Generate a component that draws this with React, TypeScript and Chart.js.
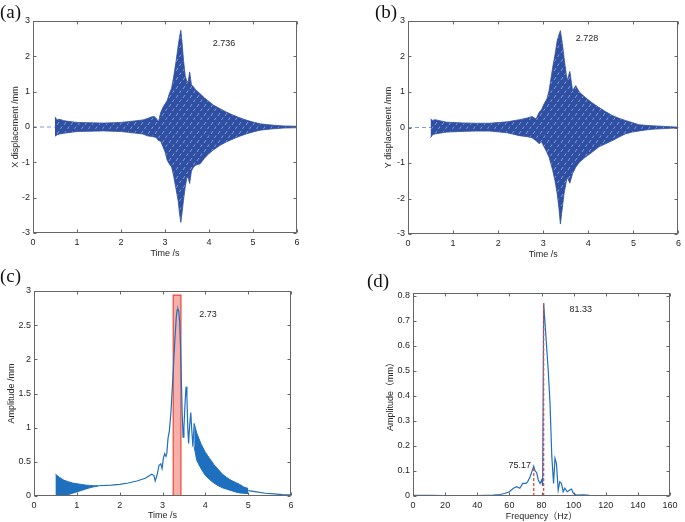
import React, { useEffect, useRef } from "react";
import { Chart, registerables } from "chart.js";

Chart.register(...registerables);

const W = 685;
const H = 522;
const FONT = "'Liberation Sans', Arial, 'Noto Sans CJK SC', sans-serif";
const BAND = "#2f4fa2";
const LINE = "#1f6fbf";
const RED = "#e8473a";

// ---------- Panel (a): X displacement envelope ----------
const timeA = [0.5, 0.55, 0.6, 0.7, 0.8, 1.0, 1.3, 1.6, 2.0, 2.3, 2.5, 2.6, 2.7, 2.75, 2.8, 2.85, 2.9, 2.95, 3.0, 3.05, 3.1, 3.15, 3.2, 3.25, 3.3, 3.33, 3.36, 3.39, 3.42, 3.46, 3.5, 3.53, 3.56, 3.6, 3.65, 3.7, 3.8, 3.9, 4.0, 4.1, 4.25, 4.4, 4.56, 4.7, 4.86, 5.0, 5.16, 5.3, 5.47, 5.7, 6.0];
const upperA = [0.28, 0.2, 0.22, 0.18, 0.16, 0.13, 0.12, 0.11, 0.13, 0.17, 0.2, 0.24, 0.29, 0.3, 0.25, 0.14, 0.4, 0.55, 0.65, 0.75, 0.95, 1.1, 1.45, 1.85, 2.3, 2.55, 2.736, 2.35, 1.9, 1.45, 1.27, 1.3, 1.56, 1.2, 1.13, 1.05, 0.94, 0.82, 0.72, 0.62, 0.52, 0.42, 0.33, 0.26, 0.19, 0.14, 0.09, 0.07, 0.05, 0.03, 0.02];
const lowerA = [-0.26, -0.22, -0.2, -0.18, -0.16, -0.13, -0.12, -0.11, -0.13, -0.17, -0.2, -0.25, -0.27, -0.28, -0.3, -0.38, -0.4, -0.55, -0.7, -0.94, -1.05, -1.13, -1.41, -1.75, -2.1, -2.45, -2.7, -2.4, -2.07, -1.7, -1.41, -1.45, -1.6, -1.25, -1.13, -1.08, -1.04, -0.88, -0.75, -0.65, -0.52, -0.42, -0.33, -0.26, -0.19, -0.14, -0.09, -0.07, -0.05, -0.03, -0.02];

// ---------- Panel (b): Y displacement envelope ----------
const timeB = [0.5, 0.55, 0.6, 0.86, 1.2, 1.5, 1.81, 2.2, 2.47, 2.65, 2.75, 2.84, 2.91, 2.96, 3.02, 3.08, 3.13, 3.21, 3.26, 3.31, 3.35, 3.38, 3.42, 3.46, 3.53, 3.59, 3.65, 3.72, 3.8, 3.93, 4.08, 4.23, 4.38, 4.53, 4.68, 4.82, 4.97, 5.12, 5.27, 5.41, 5.7, 6.0];
const upperB = [0.24, 0.2, 0.22, 0.15, 0.13, 0.12, 0.12, 0.16, 0.22, 0.27, 0.31, 0.24, 0.43, 0.5, 0.67, 0.8, 1.04, 1.7, 2.05, 2.45, 2.62, 2.728, 2.4, 1.98, 1.32, 1.58, 1.04, 1.18, 1.0, 0.85, 0.7, 0.57, 0.45, 0.34, 0.26, 0.2, 0.14, 0.08, 0.06, 0.05, 0.03, 0.01];
const lowerB = [-0.29, -0.2, -0.18, -0.13, -0.11, -0.1, -0.1, -0.15, -0.23, -0.26, -0.29, -0.37, -0.46, -0.4, -0.55, -0.7, -0.84, -1.21, -1.5, -1.87, -2.3, -2.72, -2.3, -1.87, -1.4, -1.57, -1.3, -1.12, -0.98, -0.84, -0.7, -0.55, -0.46, -0.37, -0.27, -0.18, -0.13, -0.1, -0.07, -0.05, -0.03, -0.01];

const zeroTime = [0, 6];
const zeroDisp = [0, 0];

// ---------- Panel (c): amplitude envelope ----------
const cLeadTime = [0, 0.5];
const cLeadAmp = [0, 0];
const cEarlyTime = [0.5, 0.6, 0.7, 0.8, 0.9, 1.0, 1.1, 1.2, 1.3, 1.4, 1.5];
const cEarlyUpper = [0.32, 0.27, 0.23, 0.21, 0.19, 0.18, 0.17, 0.16, 0.155, 0.15, 0.15];
const cEarlyLower = [0.0, 0.0, 0.01, 0.02, 0.04, 0.06, 0.08, 0.1, 0.12, 0.135, 0.145];
const cMainTime = [1.5, 1.8, 2.0, 2.2, 2.4, 2.6, 2.7, 2.75, 2.8, 2.83, 2.87, 2.92, 2.96, 2.99, 3.02, 3.05, 3.08, 3.1, 3.13, 3.16, 3.2, 3.23, 3.26, 3.29, 3.32, 3.34, 3.36, 3.38, 3.4, 3.42, 3.44, 3.46, 3.48, 3.5, 3.53, 3.55, 3.57, 3.59, 3.61, 3.63, 3.66, 3.68, 3.71, 3.74];
const cMainAmp = [0.15, 0.16, 0.17, 0.19, 0.22, 0.26, 0.3, 0.32, 0.3, 0.22, 0.3, 0.45, 0.47, 0.4, 0.55, 0.62, 0.58, 0.62, 0.85, 0.95, 1.25, 1.6, 1.94, 2.3, 2.6, 2.72, 2.74, 2.7, 2.55, 2.2, 1.7, 1.2, 0.86, 1.0, 1.4, 1.6, 1.45, 1.0, 0.77, 1.0, 1.22, 1.0, 0.72, 1.06];
const cLateTime = [3.74, 3.8, 3.9, 4.0, 4.1, 4.2, 4.3, 4.4, 4.5, 4.6, 4.7, 4.8, 4.9, 5.0];
const cLateUpper = [1.06, 0.92, 0.76, 0.64, 0.55, 0.46, 0.39, 0.32, 0.27, 0.23, 0.2, 0.17, 0.13, 0.11];
const cLateLower = [0.72, 0.52, 0.4, 0.3, 0.24, 0.19, 0.15, 0.12, 0.1, 0.08, 0.06, 0.045, 0.04, 0.035];
const cTailTime = [5.0, 5.2, 5.4, 5.6, 5.8, 6.0];
const cTailAmp = [0.08, 0.06, 0.04, 0.03, 0.02, 0.015];
const cBoxTime = [3.25, 3.25, 3.43, 3.43, 3.25];
const cBoxAmp = [0, 2.94, 2.94, 0, 0];

// ---------- Panel (d): spectrum ----------
const freqD = [0, 10, 20, 30, 40, 45, 50, 54, 57, 60, 62.5, 64.5, 66.5, 68.3, 70.4, 71.4, 72.9, 75.17, 76, 77, 78, 79.1, 80.1, 80.7, 81.33, 82.3, 84.2, 85.3, 86.4, 87.5, 88.4, 89.3, 90.4, 91.4, 92.4, 93.5, 94.5, 96, 97.6, 98.7, 99.8, 101.8, 106, 110, 120, 140, 160];
const ampD = [0.003, 0.003, 0.002, 0.002, 0.002, 0.003, 0.004, 0.006, 0.01, 0.017, 0.031, 0.037, 0.031, 0.05, 0.05, 0.057, 0.077, 0.119, 0.1, 0.093, 0.064, 0.05, 0.064, 0.04, 0.769, 0.68, 0.5, 0.37, 0.16, 0.05, 0.15, 0.13, 0.024, 0.057, 0.05, 0.017, 0.031, 0.017, 0.024, 0.028, 0.011, 0.004, 0.005, 0.003, 0.002, 0.002, 0.002];
const peakFreqs = [75.17, 81.33];
const peakAmps = [0.119, 0.769];

// ---------- Ticks ----------
const timeTicks = [0, 1, 2, 3, 4, 5, 6];
const dispTicks = [-3, -2, -1, 0, 1, 2, 3];
const ampTicksC = [0, 0.5, 1, 1.5, 2, 2.5, 3];
const freqTicks = [0, 20, 40, 60, 80, 100, 120, 140, 160];
const ampTicksD = [0, 0.1, 0.2, 0.3, 0.4, 0.5, 0.6, 0.7, 0.8];

const pts = (xs: number[], ys: number[]) => xs.map((x, i) => ({ x, y: ys[i] }));

// dashed-trace texture for the dense displacement band
let bandPattern: CanvasPattern | string | null = null;
function getBandFill(): CanvasPattern | string {
  if (bandPattern) return bandPattern;
  const c = document.createElement("canvas");
  c.width = 7;
  c.height = 9;
  const g = c.getContext("2d");
  if (!g) return BAND;
  g.fillStyle = BAND;
  g.fillRect(0, 0, 7, 9);
  g.strokeStyle = "rgba(190,205,235,0.75)";
  g.lineWidth = 0.8;
  g.beginPath();
  g.moveTo(1, 8);
  g.lineTo(3, 5);
  g.moveTo(4.5, 3);
  g.lineTo(6, 0.5);
  g.stroke();
  const p = g.createPattern(c, "repeat");
  bandPattern = p || BAND;
  return bandPattern;
}

const line = (data: any, color: string, width = 1, extra: any = {}) => ({
  data,
  borderColor: color,
  backgroundColor: color,
  borderWidth: width,
  pointRadius: 0,
  tension: 0,
  fill: false,
  ...extra,
});

const framePlugin = {
  id: "frame",
  afterDatasetsDraw(chart: any, _args: any, opts: any) {
    const { ctx, chartArea: a, scales } = chart;
    const xs = scales.x;
    const ys = scales.y;
    ctx.save();
    ctx.strokeStyle = "#666";
    ctx.lineWidth = 1;
    const L = Math.round(a.left) + 0.5;
    const R = Math.round(a.right) - 0.5;
    const T = Math.round(a.top) + 0.5;
    const B = Math.round(a.bottom) - 0.5;
    ctx.strokeRect(L, T, R - L, B - T);
    ctx.beginPath();
    xs.ticks.forEach((t: any) => {
      const p = Math.round(xs.getPixelForValue(t.value)) + 0.5;
      ctx.moveTo(p, B);
      ctx.lineTo(p, B - 3);
      ctx.moveTo(p, T);
      ctx.lineTo(p, T + 3);
    });
    ys.ticks.forEach((t: any) => {
      const p = Math.round(ys.getPixelForValue(t.value)) + 0.5;
      ctx.moveTo(L, p);
      ctx.lineTo(L + 3, p);
      ctx.moveTo(R, p);
      ctx.lineTo(R - 3, p);
    });
    ctx.stroke();
    ctx.fillStyle = "#262626";
    ctx.font = `9px ${FONT}`;
    ctx.textAlign = "center";
    ctx.textBaseline = "middle";
    (opts.notes || []).forEach((n: any) => {
      ctx.fillText(n.text, xs.getPixelForValue(n.x), ys.getPixelForValue(n.y));
    });
    ctx.restore();
  },
};

type Spec = {
  datasets: () => any[];
  x: [number, number];
  y: [number, number];
  xTicks: number[];
  yTicks: number[];
  xTitle: string;
  yTitle: string;
  padding: { left: number; top: number; right: number; bottom: number };
  yWidth: number;
  xHeight: number;
  notes: { text: string; x: number; y: number }[];
};

const tickFont = { family: FONT, size: 9 };

function buildConfig(s: Spec): any {
  return {
    type: "line",
    data: { datasets: s.datasets() },
    plugins: [framePlugin],
    options: {
      animation: false,
      responsive: false,
      devicePixelRatio: 1,
      layout: { padding: s.padding },
      plugins: { legend: { display: false }, tooltip: { enabled: false }, frame: { notes: s.notes } },
      scales: {
        x: {
          type: "linear",
          position: "bottom",
          min: s.x[0],
          max: s.x[1],
          grid: { display: false, drawTicks: false },
          border: { display: false },
          afterBuildTicks: (sc: any) => {
            sc.ticks = s.xTicks.map((v) => ({ value: v }));
          },
          afterFit: (sc: any) => {
            sc.height = s.xHeight;
          },
          ticks: { font: tickFont, color: "#262626", padding: 4, maxRotation: 0, autoSkip: false, callback: (v: any) => String(v) },
          title: { display: true, text: s.xTitle, font: { family: FONT, size: 9 }, color: "#262626", padding: 0 },
        },
        y: {
          type: "linear",
          position: "left",
          min: s.y[0],
          max: s.y[1],
          grid: { display: false, drawTicks: false },
          border: { display: false },
          afterBuildTicks: (sc: any) => {
            sc.ticks = s.yTicks.map((v) => ({ value: v }));
          },
          afterFit: (sc: any) => {
            sc.width = s.yWidth;
          },
          ticks: { font: tickFont, color: "#262626", padding: 3, autoSkip: false, callback: (v: any) => String(v) },
          title: { display: true, text: s.yTitle, font: { family: FONT, size: 9 }, color: "#262626", padding: 0 },
        },
      },
    },
  };
}

const specA: Spec = {
  datasets: () => [
    line(pts(timeA, upperA), BAND, 0.8),
    line(pts(timeA, lowerA), BAND, 0.8, { fill: 0, backgroundColor: getBandFill() }),
    line(pts(zeroTime, zeroDisp), "#7d9ad6", 1, { borderDash: [4, 3] }),
  ],
  x: [0, 6],
  y: [-3, 3],
  xTicks: timeTicks,
  yTicks: dispTicks,
  xTitle: "Time /s",
  yTitle: "X displacement /mm",
  padding: { left: 10, top: 21, right: 388, bottom: 263 },
  yWidth: 23,
  xHeight: 26,
  notes: [{ text: "2.736", x: 4.34, y: 2.37 }],
};

const specB: Spec = {
  datasets: () => [
    line(pts(timeB, upperB), BAND, 0.8),
    line(pts(timeB, lowerB), BAND, 0.8, { fill: 0, backgroundColor: getBandFill() }),
    line(pts(zeroTime, zeroDisp), "#7d9ad6", 1, { borderDash: [4, 3] }),
  ],
  x: [0, 6],
  y: [-3, 3],
  xTicks: timeTicks,
  yTicks: dispTicks,
  xTitle: "Time /s",
  yTitle: "Y displacement /mm",
  padding: { left: 383, top: 21, right: 4, bottom: 262 },
  yWidth: 25,
  xHeight: 26,
  notes: [{ text: "2.728", x: 3.97, y: 2.51 }],
};

const specC: Spec = {
  datasets: () => [
    line(pts(cMainTime, cMainAmp), LINE, 1.2),
    line(pts(cEarlyTime, cEarlyUpper), LINE, 1),
    line(pts(cEarlyTime, cEarlyLower), LINE, 1, { fill: 1, backgroundColor: LINE }),
    line(pts(cLateTime, cLateUpper), LINE, 1),
    line(pts(cLateTime, cLateLower), LINE, 1, { fill: 3, backgroundColor: LINE }),
    line(pts(cTailTime, cTailAmp), LINE, 1.2),
    line(pts(cLeadTime, cLeadAmp), LINE, 1.2),
    line(pts(cBoxTime, cBoxAmp), RED, 1.2, { fill: "shape", backgroundColor: "rgba(244,150,140,0.75)" }),
  ],
  x: [0, 6],
  y: [0, 3],
  xTicks: timeTicks,
  yTicks: ampTicksC,
  xTitle: "Time /s",
  yTitle: "Amplitude /mm",
  padding: { left: 6, top: 291, right: 394, bottom: 1 },
  yWidth: 28,
  xHeight: 25,
  notes: [{ text: "2.73", x: 4.06, y: 2.66 }],
};

const specD: Spec = {
  datasets: () => [
    line(pts([peakFreqs[1], peakFreqs[1]], [0, peakAmps[1]]), RED, 1.3, { borderDash: [3, 2] }),
    line(pts([peakFreqs[0], peakFreqs[0]], [0, peakAmps[0]]), RED, 1.3, { borderDash: [3, 2] }),
    line(pts(freqD, ampD), LINE, 1.2),
  ],
  x: [0, 160],
  y: [0, 0.81],
  xTicks: freqTicks,
  yTicks: ampTicksD,
  xTitle: "Frequency（Hz）",
  yTitle: "Amplitude（mm）",
  padding: { left: 385, top: 293, right: 15, bottom: 0 },
  yWidth: 28,
  xHeight: 26,
  notes: [
    { text: "81.33", x: 104.5, y: 0.744 },
    { text: "75.17", x: 66.4, y: 0.121 },
  ],
};

function Panel({ spec }: { spec: Spec }) {
  const ref = useRef<HTMLCanvasElement>(null);
  useEffect(() => {
    const chart = new Chart(ref.current as HTMLCanvasElement, buildConfig(spec));
    return () => chart.destroy();
  }, [spec]);
  return (
    <canvas
      ref={ref}
      width={W}
      height={H}
      style={{ position: "absolute", left: 0, top: 0, width: W, height: H }}
    />
  );
}

const letterStyle = (left: number, top: number): React.CSSProperties => ({
  position: "absolute",
  left,
  top,
  fontFamily: "'Liberation Serif', 'Times New Roman', serif",
  fontSize: 19,
  lineHeight: "19px",
  color: "#111",
});

export default function App() {
  return (
    <div style={{ position: "absolute", left: 0, top: 0, width: W, height: H, background: "#fff", overflow: "hidden" }}>
      <Panel spec={specA} />
      <Panel spec={specB} />
      <Panel spec={specC} />
      <Panel spec={specD} />
      <div style={letterStyle(0, 2)}>(a)</div>
      <div style={letterStyle(375, 2)}>(b)</div>
      <div style={letterStyle(0, 266)}>(c)</div>
      <div style={letterStyle(367, 271)}>(d)</div>
    </div>
  );
}
